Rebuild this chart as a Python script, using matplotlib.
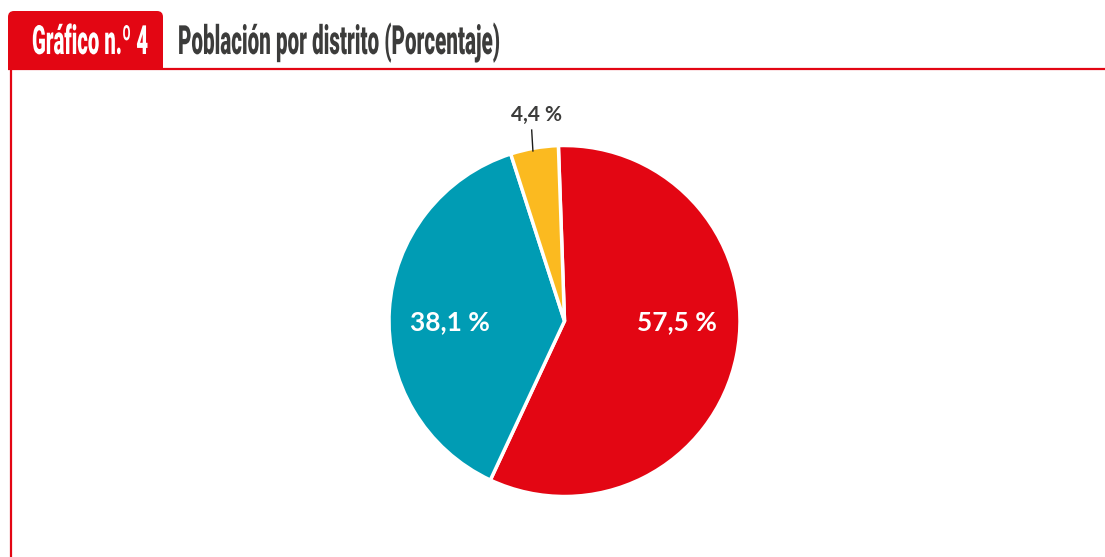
import matplotlib
matplotlib.use("Agg")
import matplotlib.pyplot as plt
import matplotlib.patheffects as pe
from matplotlib.patches import FancyBboxPatch, Rectangle
from matplotlib.transforms import Affine2D

# datos del gráfico
distritos = ["Distrito A", "Distrito B", "Distrito C"]
porcentajes = [57.5, 38.1, 4.4]
etiquetas = ["57,5 %", "38,1 %", "4,4 %"]
colores = ["#E30613", "#009CB4", "#FBBA20"]

ROJO = "#E30613"
GRIS = "#3C3C3B"


class Estrechar(pe.AbstractPathEffect):
    # deforma el texto (ancho y alto) para imitar una fuente condensada
    def __init__(self, sx, sy=1.0):
        super().__init__()
        self.sx = sx
        self.sy = sy

    def draw_path(self, renderer, gc, tpath, affine, rgbFace=None):
        renderer.draw_path(gc, tpath, Affine2D().scale(self.sx, self.sy) + affine, rgbFace)


W, H = 1105, 557
fig = plt.figure(figsize=(W / 100, H / 100), dpi=100)

# capa para la cabecera en pixeles
bg = fig.add_axes([0, 0, 1, 1])
bg.set_xlim(0, W)
bg.set_ylim(H, 0)
bg.axis("off")

caja = FancyBboxPatch((8, 11), 155, 58, boxstyle="round,pad=0,rounding_size=6",
                      fc=ROJO, ec="none")
bg.add_patch(caja)
bg.add_patch(Rectangle((8, 40), 155, 29, fc=ROJO, ec="none"))
bg.plot([8, W], [68.5, 68.5], color=ROJO, lw=1.6, solid_capstyle="butt")
bg.plot([10.5, 10.5], [68, H], color=ROJO, lw=1.6, solid_capstyle="butt")

# texto a 20 pt y luego estirado en vertical hasta ~29 pt
base = 20
alto = 29
t1 = bg.text(32, 54, "Gráfico n.º 4", color="white", fontsize=base,
             family="Roboto", weight="black", ha="left", va="baseline")
t2 = bg.text(178, 54, "Población por distrito (Porcentaje)", color=GRIS, fontsize=base,
             family="Roboto", weight="black", ha="left", va="baseline")

fig.canvas.draw()
r = fig.canvas.get_renderer()
for t, ancho in [(t1, 116), (t2, 322)]:
    w = t.get_window_extent(r).width
    t.set_path_effects([Estrechar(ancho / w, alto / base)])

# tarta
cx, cy, R = 564.5, 321, 175.5
lado = 2 * R * 1.3
ax = fig.add_axes([(cx - lado / 2) / W, (H - cy - lado / 2) / H, lado / W, lado / H])
wedges, _ = ax.pie(porcentajes, colors=colores, startangle=92, counterclock=False,
                   radius=1, wedgeprops=dict(edgecolor="white", linewidth=2.5))
ax.set_xlim(-1.3, 1.3)
ax.set_ylim(-1.3, 1.3)
ax.set_aspect("equal")
ax.axis("off")

ax.text(0.64, -0.006, etiquetas[0], color="white", fontsize=19, family="Lato",
        weight="bold", ha="center", va="center")
ax.text(-0.655, -0.006, etiquetas[1], color="white", fontsize=19, family="Lato",
        weight="bold", ha="center", va="center")
ax.text(-0.157, 1.174, etiquetas[2], color=GRIS, fontsize=15, family="Lato",
        weight="bold", ha="center", va="center")
ax.plot([-0.18, -0.187], [0.969, 1.088], color="#1d1d1b", lw=1)

fig.savefig("out.png", dpi=100)
